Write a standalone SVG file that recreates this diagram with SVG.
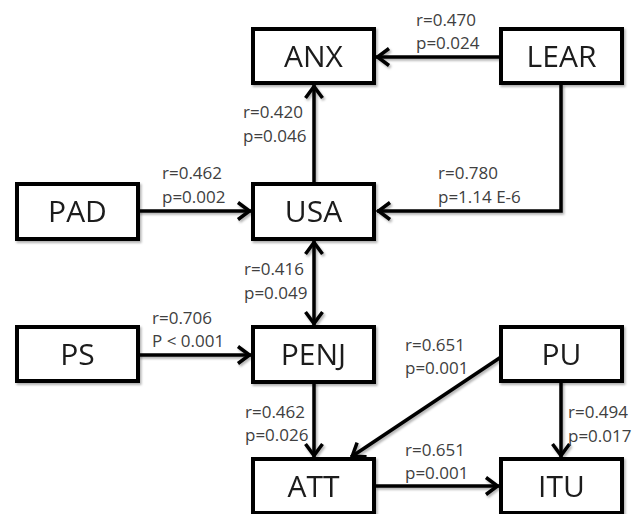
<svg xmlns="http://www.w3.org/2000/svg" width="643" height="514" viewBox="0 0 643 514">
<style>
.box{fill:#fff;stroke:#000;stroke-width:4}
.bt{font-family:"Open Sans","Liberation Sans",sans-serif;font-size:30px;fill:#1a1a1a;text-anchor:middle}
.lb{font-family:"Open Sans","Liberation Sans",sans-serif;font-size:17px;fill:#404040}
.cn{fill:none;stroke:#000;stroke-width:3.5}
</style>
<defs>
<filter id="sh" x="-10%" y="-10%" width="130%" height="130%">
<feDropShadow dx="1.5" dy="2" stdDeviation="1.2" flood-color="#000" flood-opacity="0.3"/>
</filter>
<marker id="ah" viewBox="-16 -10 20 20" markerWidth="20" markerHeight="20" refX="0" refY="0" orient="auto-start-reverse" markerUnits="userSpaceOnUse" overflow="visible">
<path d="M-13,-8.5 L-1.5,0 L-13,8.5" fill="none" stroke="#000" stroke-width="3.5"/>
</marker>
</defs>
<rect width="643" height="514" fill="#fff"/>
<g id="connectors" filter="url(#sh)">
<line class="cn" x1="501" y1="57" x2="376" y2="57" marker-end="url(#ah)"/>
<path class="cn" d="M561,84 L561,211 L377,211" marker-end="url(#ah)"/>
<line class="cn" x1="314" y1="184" x2="314" y2="85" marker-end="url(#ah)"/>
<line class="cn" x1="138" y1="211" x2="251" y2="211" marker-end="url(#ah)"/>
<line class="cn" x1="314" y1="241" x2="314" y2="325" marker-start="url(#ah)" marker-end="url(#ah)"/>
<line class="cn" x1="138" y1="355" x2="251" y2="355" marker-end="url(#ah)"/>
<line class="cn" x1="314" y1="382" x2="314" y2="457" marker-end="url(#ah)"/>
<line class="cn" x1="501" y1="357" x2="351" y2="457" marker-end="url(#ah)"/>
<line class="cn" x1="561" y1="381" x2="561" y2="457" marker-end="url(#ah)"/>
<line class="cn" x1="375" y1="486" x2="499" y2="486" marker-end="url(#ah)"/>
</g>
<g id="ANX" filter="url(#sh)"><rect class="box" x="253" y="29" width="121" height="54"/><text class="bt" x="313.5" y="67">ANX</text></g>
<g id="LEAR" filter="url(#sh)"><rect class="box" x="501" y="29" width="121" height="54"/><text class="bt" x="561.5" y="67">LEAR</text></g>
<g id="PAD" filter="url(#sh)"><rect class="box" x="17" y="184" width="121" height="55"/><text class="bt" x="77.5" y="222">PAD</text></g>
<g id="USA" filter="url(#sh)"><rect class="box" x="253" y="184" width="121" height="55"/><text class="bt" x="313.5" y="222">USA</text></g>
<g id="PS" filter="url(#sh)"><rect class="box" x="17" y="327" width="121" height="54"/><text class="bt" x="77.5" y="365">PS</text></g>
<g id="PENJ" filter="url(#sh)"><rect class="box" x="253" y="327" width="121" height="55"/><text class="bt" x="313.5" y="365">PENJ</text></g>
<g id="PU" filter="url(#sh)"><rect class="box" x="501" y="327" width="121" height="54"/><text class="bt" x="561.5" y="365">PU</text></g>
<g id="ATT" filter="url(#sh)"><rect class="box" x="253" y="459" width="121" height="54"/><text class="bt" x="313.5" y="497">ATT</text></g>
<g id="ITU" filter="url(#sh)"><rect class="box" x="501" y="459" width="121" height="54"/><text class="bt" x="561.5" y="497">ITU</text></g>
<g id="labels">
<text class="lb" x="416" y="26">r=0.470</text><text class="lb" x="416" y="49">p=0.024</text>
<text class="lb" x="243" y="118">r=0.420</text><text class="lb" x="243" y="142">p=0.046</text>
<text class="lb" x="162" y="179">r=0.462</text><text class="lb" x="162" y="203">p=0.002</text>
<text class="lb" x="438" y="179">r=0.780</text><text class="lb" x="438" y="203">p=1.14 E-6</text>
<text class="lb" x="244" y="275">r=0.416</text><text class="lb" x="244" y="299">p=0.049</text>
<text class="lb" x="152" y="324">r=0.706</text><text class="lb" x="152" y="347">P &lt; 0.001</text>
<text class="lb" x="405" y="351">r=0.651</text><text class="lb" x="405" y="374">p=0.001</text>
<text class="lb" x="245" y="418">r=0.462</text><text class="lb" x="245" y="441">p=0.026</text>
<text class="lb" x="568" y="418">r=0.494</text><text class="lb" x="568" y="442">p=0.017</text>
<text class="lb" x="405" y="456">r=0.651</text><text class="lb" x="405" y="479">p=0.001</text>
</g>
</svg>
